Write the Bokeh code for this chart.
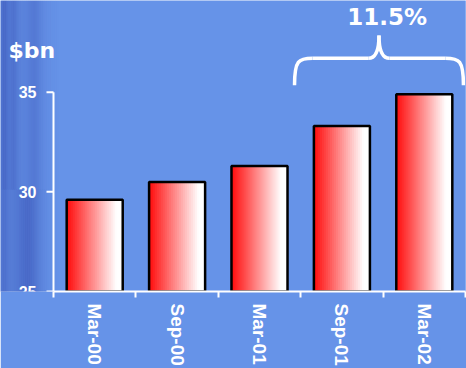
import numpy as np
from bokeh.plotting import figure
from bokeh.models import Range1d, FixedTicker, ColumnDataSource
from bokeh.core.properties import value
from bokeh.embed import file_html
from bokeh.resources import INLINE
from math import pi

# ---- data ----
categories = ["Mar-00", "Sep-00", "Mar-01", "Sep-01", "Mar-02"]
values = [29.6, 30.5, 31.3, 33.3, 34.9]
y_ticks = [25, 30, 35]
growth_label = "11.5%"
unit_label = "$bn"

BG = "#6693E8"
WHITE = "#FFFFFF"
BAR_W = 0.68
N_STRIPS = 28

# layout: category slot = 82.4 px, 20 px per $bn, y axis at 53 px, x axis at 292 px
SLOT = 82.4
PPU = 20.0
AX_X = 53
AX_Y = 292
W, H = 466, 368

x = np.arange(len(categories), dtype=float)
vals = np.array(values)
ymin, ymax = min(y_ticks), max(y_ticks)
x_left = -0.5 - AX_X / SLOT
y_top = ymin + AX_Y / PPU


def px2x(px):
    return x_left + px / SLOT


def px2y(py):
    return ymin + (AX_Y - py) / PPU


p = figure(width=W, height=H,
           x_range=Range1d(x_left, len(categories) - 0.5),
           y_range=Range1d(ymin, y_top),
           y_axis_location=None,
           output_backend="svg", toolbar_location=None,
           min_border_left=0, min_border_right=1,
           min_border_top=0, min_border_bottom=H - AX_Y,
           background_fill_color=BG, border_fill_color=BG,
           outline_line_color=None)
p.grid.visible = False

# background texture: soft darker streaks at the left edge
def bump(px, c, s):
    return np.exp(-0.5 * ((px - c) / s) ** 2)


sl, sr, st, sb, sa = [], [], [], [], []
for px in np.arange(0, 58, 2.0):
    base = 0.28 * max(0.0, 1 - px / 58)
    a_top = base + 0.25 * bump(px, 3, 2.5) + 0.18 * bump(px, 12, 3) + 0.18 * bump(px, 33, 5)
    a_bot = base + 0.15 * bump(px, 3, 2.5) + 0.35 * bump(px, 27, 8)
    for (t, b, a) in [(0, 190, a_top), (190, 300, a_bot)]:
        sl.append(px2x(px)); sr.append(px2x(px + 2.05))
        st.append(px2y(t)); sb.append(px2y(b)); sa.append(min(0.6, a))
p.quad(left=sl, right=sr, top=st, bottom=sb, fill_color="#2c40a8", fill_alpha=sa,
       line_color=None)

# gradient bars: overlapping strips red -> white (each runs to the bar's right edge)
lefts, rights, tops, colors = [], [], [], []
for i, v in enumerate(vals):
    for k in range(N_STRIPS):
        t = k / (N_STRIPS - 1)
        g = int(round(15 + (255 - 15) * min(1.0, t / 0.9)))
        lefts.append(x[i] - BAR_W / 2 + k * BAR_W / N_STRIPS)
        rights.append(x[i] + BAR_W / 2)
        tops.append(v)
        colors.append("#%02x%02x%02x" % (255, g, g))
strips = ColumnDataSource(dict(left=lefts, right=rights, top=tops,
                               bottom=[ymin] * len(tops), color=colors))
p.quad(left="left", right="right", top="top", bottom="bottom",
       fill_color="color", line_color=None, source=strips)

bars = ColumnDataSource(dict(x=x, top=vals))
p.vbar(x="x", top="top", bottom=ymin, width=BAR_W, source=bars,
       fill_color=None, line_color="black", line_width=2.5)

# y axis (drawn in the frame so that the unit label can sit above it)
p.segment(x0=[-0.5], y0=[ymin], x1=[-0.5], y1=[ymax], line_color=WHITE, line_width=2)
p.segment(x0=[-0.5 - 7 / SLOT] * len(y_ticks), y0=y_ticks,
          x1=[-0.5] * len(y_ticks), y1=y_ticks, line_color=WHITE, line_width=2)
p.text(x=[-0.5 - 17 / SLOT] * len(y_ticks), y=y_ticks, text=[str(t) for t in y_ticks],
       text_align="right", text_baseline="middle", text_color=WHITE,
       text_font=value("Liberation Sans"), text_font_style="bold", text_font_size="16px")

# unit label
p.text(x=[px2x(8)], y=[px2y(50)], text=[unit_label], text_align="left",
       text_baseline="alphabetic", text_color=WHITE,
       text_font=value("DejaVu Sans"), text_font_style="bold", text_font_size="22px")

# brace over the last two bars
i0 = len(categories) - 2
top_y = max(values)
bl, br = i0 - 0.575, i0 + 1.475
bm = (bl + br) / 2
y_end, y_mid, y_tip = top_y + 0.45, top_y + 1.8, top_y + 2.95
r = 0.22
xs0 = [bl, bm + 0.13, br, bm - 0.13]
ys0 = [y_end, y_mid, y_end, y_mid]
xs1 = [bl + r, bm, br - r, bm]
ys1 = [y_mid, y_tip, y_mid, y_tip]
cx0 = [bl, bm + 0.03, br, bm - 0.03]
cy0 = [y_mid - 0.1, y_mid, y_mid - 0.1, y_mid]
cx1 = [bl + 0.05, bm, br - 0.05, bm]
cy1 = [y_mid, y_mid + 0.55, y_mid, y_mid + 0.55]
p.bezier(x0=xs0, y0=ys0, x1=xs1, y1=ys1, cx0=cx0, cy0=cy0, cx1=cx1, cy1=cy1,
         line_color=WHITE, line_width=3.5)
p.segment(x0=[bl + r, bm + 0.13], y0=[y_mid, y_mid],
          x1=[bm - 0.13, br - r], y1=[y_mid, y_mid],
          line_color=WHITE, line_width=3.5)
p.text(x=[bm + 0.1], y=[y_tip + 0.9], text=[growth_label], text_align="center",
       text_baseline="alphabetic", text_color=WHITE,
       text_font=value("DejaVu Sans"), text_font_style="bold", text_font_size="23px")

# x axis
xa = p.xaxis[0]
xa.bounds = (-0.5, len(categories) - 0.5)
xa.ticker = FixedTicker(ticks=list(x), minor_ticks=list(np.arange(len(categories) + 1) - 0.5))
xa.major_label_overrides = {int(i): c for i, c in enumerate(categories)}
xa.major_label_orientation = -pi / 2
xa.major_tick_line_color = None
xa.major_tick_out = 0
xa.major_tick_in = 0
xa.major_label_standoff = 6
xa.minor_tick_line_color = WHITE
xa.minor_tick_line_width = 2
xa.minor_tick_out = 6
xa.minor_tick_in = 0
xa.axis_line_color = WHITE
xa.axis_line_width = 2
xa.major_label_text_color = WHITE
xa.major_label_text_font = "Liberation Sans"
xa.major_label_text_font_style = "bold"
xa.major_label_text_font_size = "19px"

open("out.html", "w").write(file_html(p, INLINE))
